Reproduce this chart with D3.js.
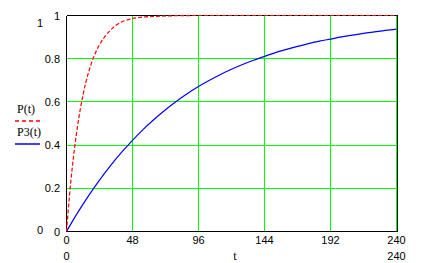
<!DOCTYPE html>
<html><head><meta charset="utf-8">
<script src="https://cdn.jsdelivr.net/npm/d3@7"></script>
<style>body{margin:0;background:#fff;}svg{display:block;}</style>
</head><body>
<script>
const xTicks = [0, 48, 96, 144, 192, 240];
const yTicks = [0, 0.2, 0.4, 0.6, 0.8, 1];
const yTickLabels = ["0", "0.2", "0.4", "0.6", "0.8", "1"];
const tP = [0, 2, 4, 6, 8, 10, 12, 14, 16, 18, 20, 24, 28, 32, 36, 40, 44, 48, 56, 64, 72, 96, 120, 144, 168, 192, 216, 240];
const P  = [0, 0.154, 0.284, 0.393, 0.487, 0.565, 0.632, 0.689, 0.736, 0.777, 0.811, 0.865, 0.903, 0.932, 0.955, 0.97, 0.979, 0.986, 0.993, 0.996, 0.998, 1, 1, 1, 1, 1, 1, 1];
const tP3 = [0, 8, 16, 24, 32, 40, 48, 56, 64, 72, 80, 88, 96, 104, 112, 120, 128, 136, 144, 152, 160, 168, 176, 184, 192, 200, 208, 216, 224, 232, 240];
const P3  = [0, 0.086, 0.165, 0.238, 0.305, 0.366, 0.422, 0.474, 0.521, 0.564, 0.603, 0.639, 0.671, 0.700, 0.727, 0.751, 0.773, 0.793, 0.811, 0.828, 0.843, 0.857, 0.870, 0.881, 0.891, 0.901, 0.909, 0.917, 0.924, 0.931, 0.937];
const seriesNames = ["P(t)", "P3(t)"];

const W = 424, H = 263;
const svg = d3.select("body").append("svg").attr("width", W).attr("height", H);
const x = d3.scaleLinear().domain([0, 240]).range([66.5, 396.5]);
const y = d3.scaleLinear().domain([0, 1]).range([231.5, 15.5]);
const sans = "'Liberation Sans', Arial, sans-serif";
const serif = "'Liberation Serif', 'Times New Roman', serif";

// grid
svg.append("g").selectAll("line.v").data(xTicks.slice(1)).join("line")
  .attr("x1", d => x(d)).attr("x2", d => x(d)).attr("y1", y(0)).attr("y2", y(1))
  .attr("stroke", "#00ff00").attr("stroke-width", 1).attr("shape-rendering", "crispEdges");
svg.append("g").selectAll("line.h").data(yTicks.slice(1)).join("line")
  .attr("x1", x(0)).attr("x2", x(240)).attr("y1", d => y(d)).attr("y2", d => y(d))
  .attr("stroke", "#00ff00").attr("stroke-width", 1).attr("shape-rendering", "crispEdges");

// frame
const f = svg.append("g").attr("stroke", "#000").attr("stroke-width", 1).attr("shape-rendering", "crispEdges");
f.append("line").attr("x1", x(0)).attr("x2", x(0)).attr("y1", y(0)).attr("y2", y(1));
f.append("line").attr("x1", x(0)).attr("x2", x(240) + 1).attr("y1", y(0)).attr("y2", y(0));
f.append("line").attr("x1", x(0)).attr("x2", x(240) + 1).attr("y1", y(1)).attr("y2", y(1));
f.append("line").attr("x1", x(240) + 1).attr("x2", x(240) + 1).attr("y1", y(0)).attr("y2", y(1));

// curves
const line = d3.line().x(d => x(d[0])).y(d => y(d[1])).curve(d3.curveMonotoneX);
svg.append("path").datum(tP3.map((t, i) => [t, P3[i]])).attr("d", line)
  .attr("fill", "none").attr("stroke", "#0000ff").attr("stroke-width", 1.2);
svg.append("path").datum(tP.map((t, i) => [t, P[i]])).attr("d", line)
  .attr("fill", "none").attr("stroke", "#ff0000").attr("stroke-width", 1.2).attr("stroke-dasharray", "4,2");

// y tick labels
svg.append("g").selectAll("text").data(yTicks).join("text")
  .attr("x", 60).attr("y", d => y(d) + 4).attr("text-anchor", "end")
  .attr("font-family", sans).attr("font-size", 11).text((d, i) => yTickLabels[i]);
// x tick labels
svg.append("g").selectAll("text").data(xTicks).join("text")
  .attr("x", d => x(d)).attr("y", 244).attr("text-anchor", "middle")
  .attr("font-family", sans).attr("font-size", 11).text(d => d);

// axis limits
const lim = svg.append("g").attr("font-family", sans).attr("font-size", 11);
lim.append("text").attr("x", 40).attr("y", 27).attr("text-anchor", "middle").text("1");
lim.append("text").attr("x", 40).attr("y", 234).attr("text-anchor", "middle").text("0");
lim.append("text").attr("x", x(0)).attr("y", 260).attr("text-anchor", "middle").text("0");
lim.append("text").attr("x", x(240)).attr("y", 260).attr("text-anchor", "middle").text("240");
svg.append("text").attr("x", 235).attr("y", 260).attr("text-anchor", "middle")
  .attr("font-family", serif).attr("font-size", 12).text("t");

// legend
const lg = svg.append("g");
lg.append("text").attr("x", 17).attr("y", 113).attr("font-family", serif).attr("font-size", 12).text(seriesNames[0]);
lg.append("line").attr("x1", 15).attr("x2", 40).attr("y1", 121).attr("y2", 121)
  .attr("stroke", "#ff0000").attr("stroke-width", 1.5).attr("stroke-dasharray", "4,3");
lg.append("text").attr("x", 17).attr("y", 136).attr("font-family", serif).attr("font-size", 12).text(seriesNames[1]);
lg.append("line").attr("x1", 15).attr("x2", 40).attr("y1", 144).attr("y2", 144)
  .attr("stroke", "#0000ff").attr("stroke-width", 1.5);
</script>
</body></html>
